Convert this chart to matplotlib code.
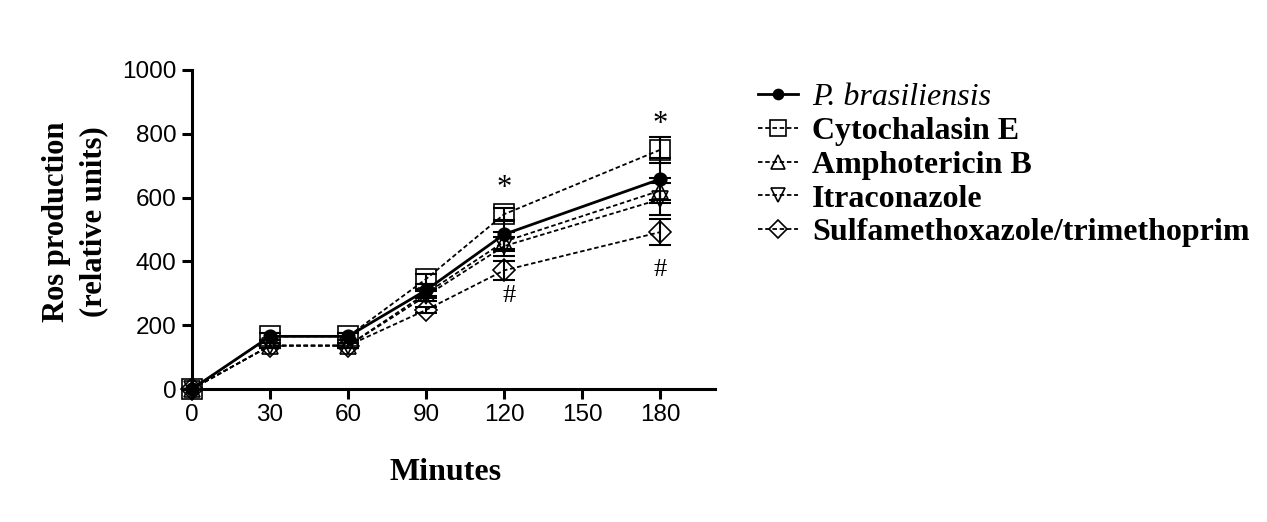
import matplotlib
matplotlib.use("Agg")
import matplotlib.pyplot as plt

minutes = [0, 30, 60, 90, 120, 180]
series_names = ["P. brasiliensis", "Cytochalasin E", "Amphotericin B",
                "Itraconazole", "Sulfamethoxazole/trimethoprim"]
pb_vals = [0, 165, 165, 310, 485, 658]
cyto_vals = [0, 165, 165, 345, 548, 750]
ampho_vals = [0, 136, 136, 300, 462, 622]
itra_vals = [0, 136, 136, 292, 448, 595]
sulfa_vals = [0, 136, 136, 248, 372, 492]
pb_err = [0, 10, 10, 20, 45, 65]
cyto_err = [0, 10, 10, 15, 20, 40]
ampho_err = [0, 8, 8, 15, 30, 40]
itra_err = [0, 8, 8, 15, 30, 50]
sulfa_err = [0, 8, 8, 10, 30, 40]
star_x = [120, 180]
star_y = [628, 830]
hash_x = [122, 180]
hash_y = [290, 372]
y_ticks = [0, 200, 400, 600, 800, 1000]

values = [pb_vals, cyto_vals, ampho_vals, itra_vals, sulfa_vals]
errors = [pb_err, cyto_err, ampho_err, itra_err, sulfa_err]
markers = ["o", "s", "^", "v", "D"]
msizes = [9, 15, 12, 12, 11]

fig = plt.figure(figsize=(12.67, 5.22), dpi=100)
ax = fig.add_axes([192/1267, 1-389/522, (715-192)/1267, (389-70)/522])

handles = []
for i, (v, e) in enumerate(zip(values, errors)):
    if i == 0:
        ls, lw, mfc = "-", 2.0, "black"
    else:
        ls, lw, mfc = (0, (2.5, 1.5)), 1.3, "none"
    ax.errorbar(minutes, v, yerr=e, fmt="none", ecolor="black", elinewidth=1.5,
                capsize=8, capthick=1.5, clip_on=False, zorder=3)
    h, = ax.plot(minutes, v, linestyle=ls, linewidth=lw, color="black",
                 marker=markers[i], markersize=msizes[i], markerfacecolor=mfc,
                 markeredgecolor="black", markeredgewidth=1.2, clip_on=False,
                 zorder=4 if i == 0 else 3)
    handles.append(h)

for x, y in zip(star_x, star_y):
    ax.text(x, y, "*", ha="center", va="center", fontsize=22,
            family="Liberation Serif")
for x, y in zip(hash_x, hash_y):
    ax.text(x, y, "#", ha="center", va="center", fontsize=19,
            family="Liberation Serif")

ax.set_xlim(0, 201)
ax.set_ylim(0, 1000)
ax.set_xticks(minutes + [150])
ax.set_xticklabels([str(t) for t in minutes + [150]])
ax.set_yticks(y_ticks)
for sp in ["top", "right"]:
    ax.spines[sp].set_visible(False)
for sp in ["left", "bottom"]:
    ax.spines[sp].set_linewidth(2.2)
ax.tick_params(axis="both", width=2.2, length=7, labelsize=17.5, pad=4)
for lab in ax.get_xticklabels() + ax.get_yticklabels():
    lab.set_family("Liberation Sans")

ax.set_ylabel("Ros production\n(relative units)", family="Liberation Serif",
              fontweight="bold", fontsize=22, linespacing=1.4)
ax.yaxis.set_label_coords(-0.16, 0.525)
ax.set_xlabel("Minutes", family="Liberation Serif", fontweight="bold", fontsize=23)
ax.xaxis.set_label_coords(0.485, -0.215)

leg = fig.legend(handles, series_names, loc="upper left",
                 bbox_to_anchor=(745/1267, 1-70/522), frameon=False,
                 prop={"family": "Liberation Serif", "weight": "bold", "size": 23},
                 handlelength=1.25, handletextpad=0.45, labelspacing=0.14,
                 numpoints=1, markerscale=0.8, borderaxespad=0)
texts = leg.get_texts()
texts[0].set_style("italic")
texts[0].set_weight("normal")

fig.savefig("out.png", dpi=100, facecolor="white")
